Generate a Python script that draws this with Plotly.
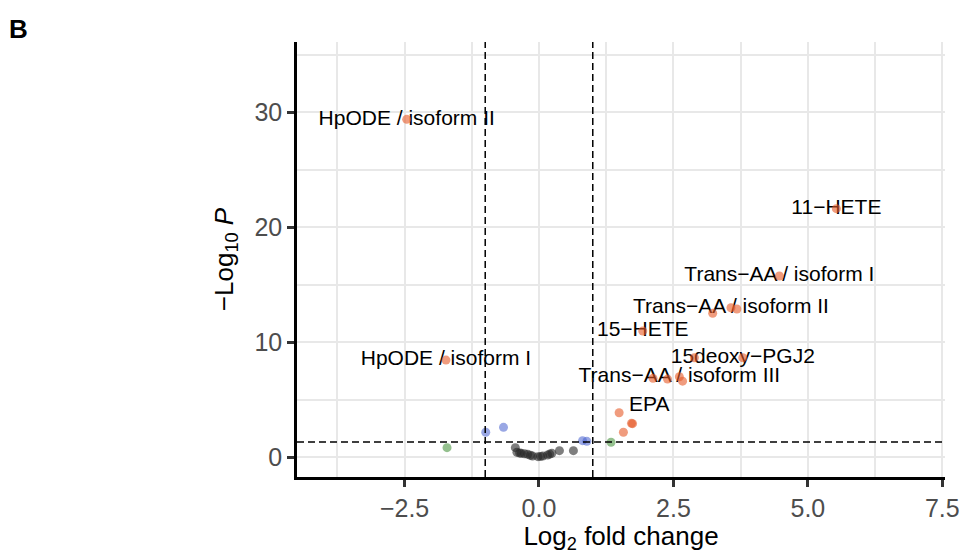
import plotly.graph_objects as go

# ---- data ----
ns_x = [-0.44, -0.41, -0.36, -0.33, -0.27, -0.21, -0.16, -0.12, -0.02, 0.03, 0.07, 0.16, 0.20, 0.24, 0.38, 0.64]
ns_y = [0.81, 0.41, 0.35, 0.32, 0.28, 0.23, 0.15, 0.09, 0.03, 0.05, 0.09, 0.17, 0.25, 0.32, 0.55, 0.55]

p_x = [-0.99, -0.66, 0.81, 0.89]
p_y = [2.15, 2.58, 1.42, 1.36]

fc_x = [-1.71, 1.34]
fc_y = [0.81, 1.28]

sig_x = [-2.46, -1.73, 5.53, 4.47, 3.23, 3.57, 3.68, 1.93, 2.89, 3.79, 2.12, 2.39, 2.61, 2.67, 1.49, 1.72, 1.74, 1.57]
sig_y = [29.37, 8.43, 21.6, 15.74, 12.5, 12.98, 12.87, 10.96, 8.63, 8.63, 6.84, 6.78, 6.98, 6.6, 3.85, 2.93, 2.90, 2.15]

label_text = ["HpODE / isoform II", "HpODE / isoform I", "11\u2212HETE", "Trans\u2212AA / isoform I",
              "Trans\u2212AA / isoform II", "15\u2212HETE", "15deoxy\u2212PGJ2", "Trans\u2212AA / isoform III", "EPA"]
label_x = [-2.46, -1.73, 5.53, 4.47, 3.57, 1.93, 3.79, 2.61, 2.05]
label_y = [29.37, 8.43, 21.6, 15.74, 12.98, 10.96, 8.63, 6.98, 4.43]

x_ticks = [-2.5, 0.0, 2.5, 5.0, 7.5]
x_ticktext = ["\u22122.5", "0.0", "2.5", "5.0", "7.5"]
x_minor = [-3.75, -1.25, 1.25, 3.75, 6.25]
y_ticks = [0, 10, 20, 30]
y_minor = [5, 15, 25, 35]

fc_cut = 1.0
p_cut = 1.30103  # -log10(0.05)

FONT = "Liberation Sans, Arial, sans-serif"

fig = go.Figure()

fig.add_trace(go.Scatter(x=label_x, y=label_y, text=label_text, mode="text",
                         textposition="middle center",
                         textfont=dict(family=FONT, size=21, color="#000000"),
                         hoverinfo="skip", showlegend=False))

def pts(x, y, col):
    fig.add_trace(go.Scatter(x=x, y=y, mode="markers", showlegend=False,
                             marker=dict(size=9, color=col, line=dict(width=0))))

pts(ns_x, ns_y, "rgba(40,40,40,0.6)")
pts(p_x, p_y, "rgba(70,95,205,0.55)")
pts(fc_x, fc_y, "rgba(60,140,50,0.55)")
pts(sig_x, sig_y, "rgba(230,90,40,0.6)")

dash = dict(color="black", width=1.5, dash="7px,4px")
for v in (-fc_cut, fc_cut):
    fig.add_shape(type="line", xref="x", yref="paper", x0=v, x1=v, y0=0, y1=1, line=dash, layer="above")
fig.add_shape(type="line", xref="paper", yref="y", x0=0, x1=1, y0=p_cut, y1=p_cut, line=dash, layer="above")

axis_common = dict(showline=True, linecolor="black", linewidth=2.5, ticks="outside",
                   ticklen=7, tickwidth=2.5, tickcolor="#333333", zeroline=False,
                   showgrid=True, gridcolor="#E8E8E8", gridwidth=2, automargin=False,
                   tickfont=dict(family=FONT, size=25, color="#4D4D4D"))

fig.update_layout(
    width=960, height=554,
    margin=dict(l=297, r=15, t=42, b=77),
    paper_bgcolor="white", plot_bgcolor="white",
    xaxis=dict(range=[-4.5, 7.55], tickvals=x_ticks, ticktext=x_ticktext,
               minor=dict(tickvals=x_minor, showgrid=True, gridcolor="#E8E8E8", gridwidth=1.5, ticks=""),
               title=dict(text="Log<sub>2</sub> fold change", font=dict(family=FONT, size=26, color="black"),
                          standoff=8),
               **axis_common),
    yaxis=dict(range=[-1.74, 36.1], tickvals=y_ticks,
               minor=dict(tickvals=y_minor, showgrid=True, gridcolor="#E8E8E8", gridwidth=1.5, ticks=""),
               title=dict(text="\u2212Log<sub>10</sub> <i>P</i>", font=dict(family=FONT, size=26, color="black"),
                          standoff=14),
               **axis_common),
    annotations=[dict(text="<b>B</b>", xref="paper", yref="paper", x=-0.448, y=1.07,
                      xanchor="left", yanchor="top", showarrow=False,
                      font=dict(family=FONT, size=26, color="black"))],
)

fig.write_html("out.html")
